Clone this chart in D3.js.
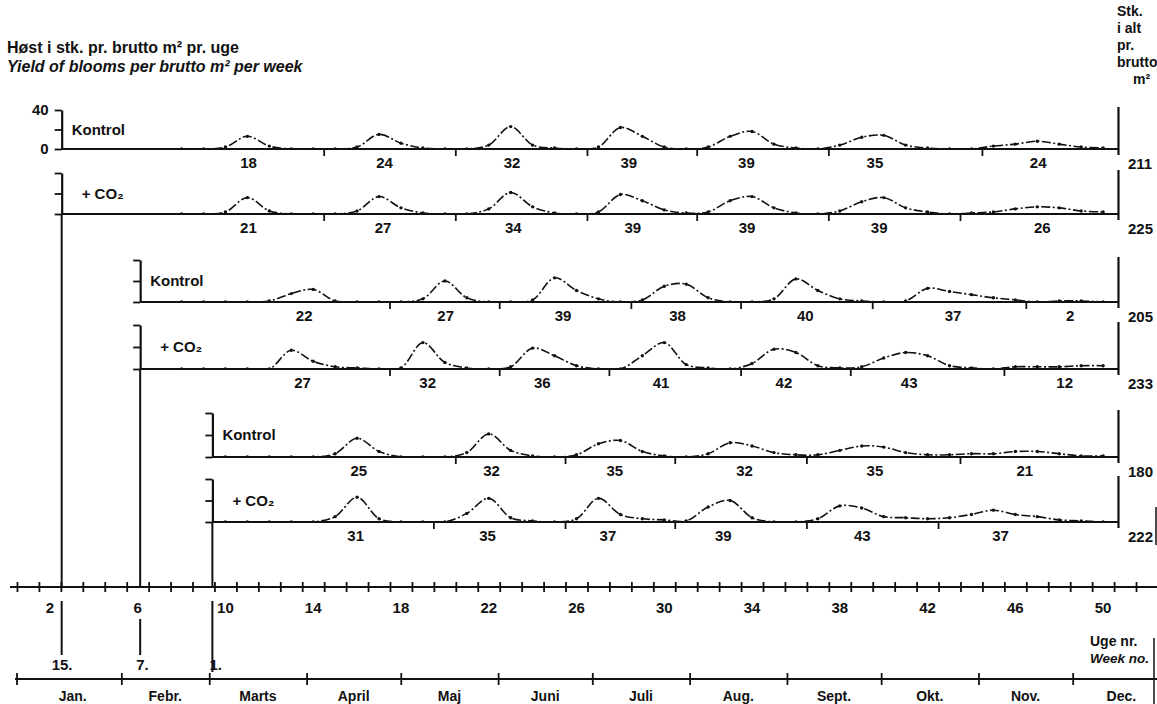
<!DOCTYPE html>
<html><head><meta charset="utf-8">
<script src="https://cdn.jsdelivr.net/npm/d3@7"></script>
<style>
html,body{margin:0;padding:0;background:#fff;}
svg text{font-family:"Liberation Sans",Arial,Helvetica,sans-serif;fill:#111;font-weight:bold;}
</style></head><body>
<svg id="chart" width="1157" height="704"></svg>
<script>
// ---------------- DATA ----------------
const titleDa = "Høst i stk. pr. brutto m² pr. uge";
const titleEn = "Yield of blooms per brutto m² per week";
const rightHeader = ["Stk.", "i alt", "pr.", "brutto", "m²"];
const panelLabels = ["Kontrol", "+ CO₂", "Kontrol", "+ CO₂", "Kontrol", "+ CO₂"];
const plantingLabels = ["15.", "7.", "1."];
const plantingDay = [12, 37, 60];          // day of year of the planting lines
const seriesStartWeek = [8, 8, 8, 8, 10, 10];

// weekly yield, blooms per brutto m², from the start week to week 50
const kontrolJan = [0,0,2,13,3,0,0,0,2,15,6,1,0,0,4,23,4,1,0,2,22,13,2,0,2,13,18,5,1,0,4,12,14,4,1,0,0,3,5,8,5,2,1];
const co2Jan     = [0,0,2,16,3,0,0,0,3,17,6,1,0,0,5,21,7,1,0,2,19,13,4,1,2,13,17,6,1,0,3,12,16,6,2,0,1,2,5,7,6,3,2];
const kontrolFeb = [0,0,0,0,1,8,12,1,0,0,0,3,20,4,0,0,2,23,11,3,0,2,15,17,4,0,0,3,22,11,3,1,0,1,13,10,7,4,2,0,1,1,0];
const co2Feb     = [0,0,0,0,0,17,7,2,1,0,1,24,6,1,0,2,19,12,3,0,0,12,24,4,1,0,5,18,15,3,1,2,10,15,12,3,1,0,2,2,2,3,3];
const kontrolMar = [0,0,0,0,0,3,17,5,0,0,0,4,21,6,1,0,2,12,15,5,1,0,3,13,10,4,2,2,6,10,9,4,2,2,3,3,5,5,3,1,1];
const co2Mar     = [0,0,0,0,0,5,23,3,0,0,0,8,22,4,1,0,3,22,7,3,2,1,14,20,4,0,0,3,15,13,5,4,3,4,7,11,7,5,2,1,0];

// flush boundaries (week) and flush totals
const breaksKontrolJan = [14.5, 20.5, 26.5, 31.5, 37.5, 44.5];
const breaksCo2Jan     = [14.5, 20.5, 26.5, 31.5, 37.5, 43.5];
const breaksKontrolFeb = [17.5, 22.5, 28.5, 33.5, 39.5, 46.5];
const breaksCo2Feb     = [17.5, 22.5, 27.5, 33.5, 38.5, 45.5];
const breaksKontrolMar = [20.5, 25.5, 30.5, 36.5, 43.5];
const breaksCo2Mar     = [19.5, 25.5, 30.5, 36.5, 42.5];

const flushKontrolJan = [18, 24, 32, 39, 39, 35, 24];
const flushCo2Jan     = [21, 27, 34, 39, 39, 39, 26];
const flushKontrolFeb = [22, 27, 39, 38, 40, 37, 2];
const flushCo2Feb     = [27, 32, 36, 41, 42, 43, 12];
const flushKontrolMar = [25, 32, 35, 32, 35, 21];
const flushCo2Mar     = [31, 35, 37, 39, 43, 37];

const panelTotals = [211, 225, 205, 233, 180, 222];

const weekLabels = [2, 6, 10, 14, 18, 22, 26, 30, 34, 38, 42, 46, 50];
const monthNames = ["Jan.", "Febr.", "Marts", "April", "Maj", "Juni", "Juli", "Aug.", "Sept.", "Okt.", "Nov.", "Dec."];
const monthDays = [31, 28, 31, 30, 31, 30, 31, 31, 30, 31, 30, 31];
const yTicks = [0, 20, 40];

// ---------------- DRAWING ----------------
const series = [kontrolJan, co2Jan, kontrolFeb, co2Feb, kontrolMar, co2Mar];
const breaks = [breaksKontrolJan, breaksCo2Jan, breaksKontrolFeb, breaksCo2Feb, breaksKontrolMar, breaksCo2Mar];
const flushes = [flushKontrolJan, flushCo2Jan, flushKontrolFeb, flushCo2Feb, flushKontrolMar, flushCo2Mar];

const svg = d3.select("#chart");
const ink = "#111";
const defs = svg.append("defs");

const xWeek = d3.scaleLinear().domain([0, 52]).range([6, 1147]);
const xDay = d3.scaleLinear().domain([0, 365]).range([24, 1170]);
const rightWeek = 50.7;
const xRight = xWeek(rightWeek);

const baseY = [149, 214, 302, 369, 457, 522];
const panelH = [39, 41, 42, 44, 44, 43];
const weekAxisY = 587;
const monthAxisY = 679;

// headers
svg.append("text").attr("x", 7).attr("y", 53).attr("font-size", 16).text(titleDa);
svg.append("text").attr("x", 7).attr("y", 72).attr("font-size", 16).attr("font-style", "italic").text(titleEn);
rightHeader.forEach((t, i) => {
  svg.append("text").attr("x", i === 4 ? 1133 : 1117).attr("y", 16 + i * 17)
    .attr("font-size", 14).text(t);
});

series.forEach((vals, i) => {
  const y0 = baseY[i], h = panelH[i];
  const ax = xDay(plantingDay[Math.floor(i / 2)]);
  const y = d3.scaleLinear().domain([0, 40]).range([y0, y0 - h]);
  const g = svg.append("g");

  // left axis
  const axis = d3.axisLeft(y).tickValues(yTicks).tickSize(7).tickSizeOuter(0)
    .tickPadding(6)
    .tickFormat(d => (i === 0 && d !== 20) ? d : "");
  const ag = g.append("g").attr("transform", `translate(${ax},0)`).call(axis);
  ag.select(".domain").attr("stroke", ink).attr("stroke-width", 2.2);
  ag.selectAll(".tick line").attr("stroke", ink).attr("stroke-width", 1.8);
  ag.selectAll(".tick text").attr("font-size", 15).attr("fill", ink)
    .style("font-family", '"Liberation Sans",Arial,sans-serif').style("font-weight", "bold");

  // baseline
  g.append("line").attr("x1", ax).attr("x2", xRight).attr("y1", y(0)).attr("y2", y(0))
    .attr("stroke", ink).attr("stroke-width", 2.2);
  // right line
  g.append("line").attr("x1", xRight).attr("x2", xRight).attr("y1", y(40) - 3).attr("y2", y(0) + 6)
    .attr("stroke", ink).attr("stroke-width", 2.2);

  // flush boundary ticks
  g.selectAll(".brk").data(breaks[i]).join("line")
    .attr("x1", d => xWeek(d)).attr("x2", d => xWeek(d))
    .attr("y1", y(0)).attr("y2", y(0) + 7)
    .attr("stroke", ink).attr("stroke-width", 1.8);

  // data points
  const pts = vals.map((v, k) => ({ w: seriesStartWeek[i] + k, v }));

  // flush labels at the centroid of each flush
  const edges = [seriesStartWeek[i] - 0.5, ...breaks[i], rightWeek];
  flushes[i].forEach((tot, f) => {
    const inF = pts.filter(p => p.w > edges[f] && p.w < edges[f + 1]);
    const s = d3.sum(inF, p => p.v);
    const c = s > 0 ? d3.sum(inF, p => p.w * p.v) / s : (edges[f] + edges[f + 1]) / 2;
    g.append("text").attr("x", xWeek(c)).attr("y", y(0) + 19)
      .attr("text-anchor", "middle").attr("font-size", 15).text(tot);
  });

  // total
  g.append("text").attr("x", 1128).attr("y", y(0) + 20).attr("font-size", 15).text(panelTotals[i]);

  // panel label
  g.append("text").attr("x", ax + (i % 2 === 0 ? 10 : 20)).attr("y", y(20) + 5)
    .attr("font-size", 15).text(panelLabels[i]);

  // curve (clipped at the baseline)
  defs.append("clipPath").attr("id", "cp" + i).append("rect")
    .attr("x", ax).attr("y", y0 - h - 10).attr("width", xRight - ax).attr("height", h + 10.5);
  const line = d3.line().x(d => xWeek(d.w)).y(d => y(d.v)).curve(d3.curveCatmullRom.alpha(0.5));
  const cg = g.append("g").attr("clip-path", `url(#cp${i})`);
  cg.append("path").datum(pts).attr("d", line).attr("fill", "none")
    .attr("stroke", ink).attr("stroke-width", 1.6)
    .attr("stroke-dasharray", "9,2.5,2,2.5");
  cg.selectAll(".pt").data(pts).join("circle")
    .attr("cx", d => xWeek(d.w)).attr("cy", d => y(d.v)).attr("r", 1.7).attr("fill", ink);

  // drop line to week axis
  if (i % 2 === 1) {
    g.append("line").attr("x1", ax).attr("x2", ax).attr("y1", y(0)).attr("y2", weekAxisY)
      .attr("stroke", ink).attr("stroke-width", 2);
  }
});

// week axis
const weekTicks = d3.range(0, 53).map(k => k + 0.5);
const wa = svg.append("g").attr("transform", `translate(0,${weekAxisY})`)
  .call(d3.axisBottom(xWeek).tickValues(weekTicks).tickSize(5).tickSizeOuter(0).tickFormat(""));
wa.select(".domain").remove();
wa.selectAll(".tick line").attr("y1", -5).attr("y2", 5).attr("stroke", ink).attr("stroke-width", 1.8);
svg.append("line").attr("x1", 10).attr("x2", 1157).attr("y1", weekAxisY).attr("y2", weekAxisY)
  .attr("stroke", ink).attr("stroke-width", 2.2);
svg.selectAll(".wl").data(weekLabels).join("text")
  .attr("x", d => xWeek(d)).attr("y", weekAxisY + 26).attr("text-anchor", "middle")
  .attr("font-size", 15).text(d => d);

// planting lines below the week axis
const dropTop = [601, 619, 601], dropBot = [655, 655, 672], labOff = [-10, -4, -3];
plantingDay.forEach((d, k) => {
  const x = xDay(d);
  svg.append("line").attr("x1", x).attr("x2", x).attr("y1", dropTop[k]).attr("y2", dropBot[k])
    .attr("stroke", ink).attr("stroke-width", 2);
  svg.append("text").attr("x", x + labOff[k]).attr("y", 670).attr("font-size", 15).text(plantingLabels[k]);
});

// Uge nr. / Week no.
svg.append("text").attr("x", 1090).attr("y", 646).attr("font-size", 14).text("Uge nr.");
svg.append("text").attr("x", 1090).attr("y", 663).attr("font-size", 13.5).attr("font-style", "italic").text("Week no.");

// month axis
const monthStart = [0];
monthDays.forEach(d => monthStart.push(monthStart[monthStart.length - 1] + d));
const ma = svg.append("g").attr("transform", `translate(0,${monthAxisY})`)
  .call(d3.axisBottom(xDay).tickValues(monthStart.slice(1, 12)).tickSize(5).tickSizeOuter(0).tickFormat(""));
ma.select(".domain").remove();
ma.selectAll(".tick line").attr("y1", -6).attr("y2", 6).attr("stroke", ink).attr("stroke-width", 1.8);
svg.append("line").attr("x1", 15).attr("x2", 1157).attr("y1", monthAxisY).attr("y2", monthAxisY)
  .attr("stroke", ink).attr("stroke-width", 2.2);
svg.append("line").attr("x1", 17).attr("x2", 17).attr("y1", monthAxisY - 6).attr("y2", monthAxisY + 6)
  .attr("stroke", ink).attr("stroke-width", 1.8);
svg.selectAll(".ml").data(monthNames).join("text")
  .attr("x", (d, i) => xDay((monthStart[i] + monthStart[i + 1]) / 2)).attr("y", monthAxisY + 22)
  .attr("text-anchor", "middle").attr("font-size", 14).text(d => d);

// border fragments at the right edge
svg.append("line").attr("x1", 1154).attr("x2", 1154).attr("y1", 638).attr("y2", 704)
  .attr("stroke", ink).attr("stroke-width", 1.5);
svg.append("line").attr("x1", 1156).attr("x2", 1156).attr("y1", 507).attr("y2", 545)
  .attr("stroke", ink).attr("stroke-width", 1.5);
</script>
</body></html>
